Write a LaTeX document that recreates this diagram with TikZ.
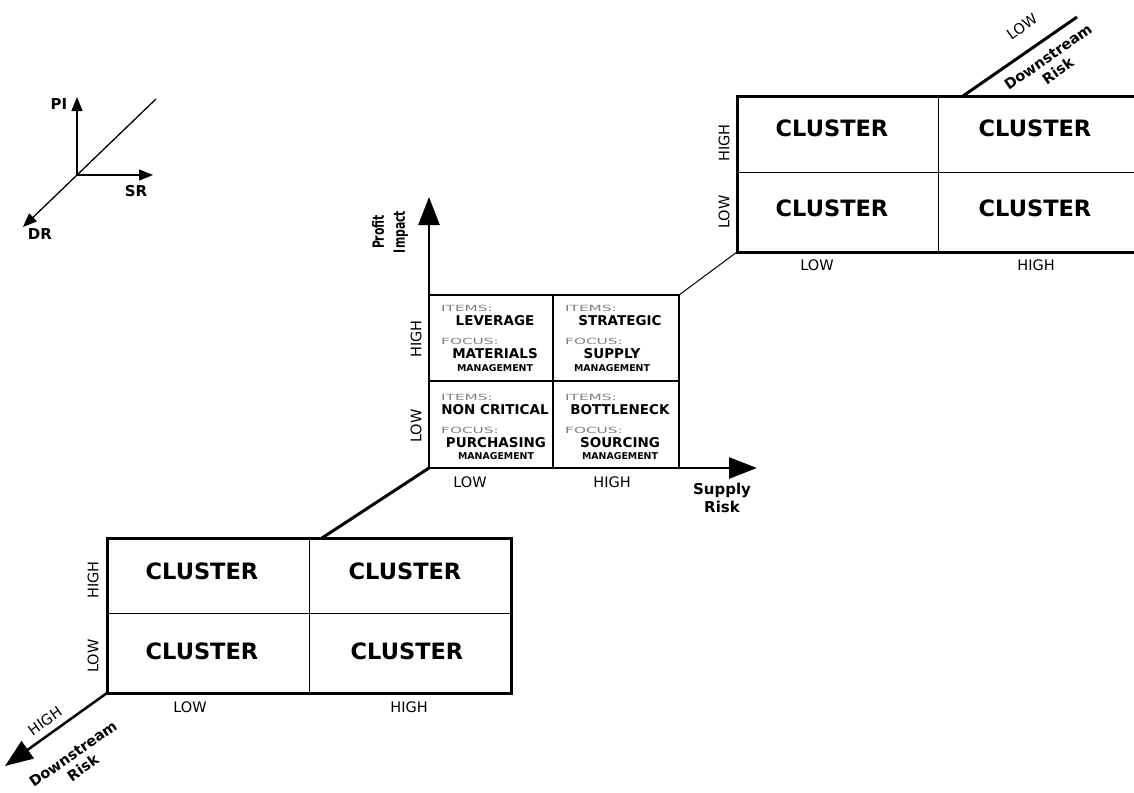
\documentclass[tikz,border=0pt]{standalone}
\usepackage{fontspec}
\setmainfont{DejaVu Sans}
\newfontfamily\widefont[FakeStretch=1.8]{DejaVu Sans}
\newfontfamily\narrowfont[FakeStretch=0.7]{DejaVu Sans}
\usetikzlibrary{arrows.meta}

\begin{document}
\begin{tikzpicture}[x=1pt,y=-1pt,
    bigarrow/.style={line width=2.5pt,-{Triangle[length=28pt,width=21pt]}},
    smallarrow/.style={line width=1.3pt,-{Triangle[length=14pt,width=11pt]}},
    cluster/.style={font=\bfseries\fontsize{22.5}{26}\selectfont},
    lbl/.style={font=\fontsize{14.5}{17}\selectfont},
    axislbl/.style={font=\bfseries\fontsize{15}{18}\selectfont,align=center},
    tag/.style={font=\widefont\fontsize{8.5}{10}\selectfont,text=black!50,anchor=west,inner sep=0pt},
    item/.style={font=\bfseries\fontsize{13.5}{15}\selectfont,inner sep=0pt},
    mgmt/.style={font=\bfseries\fontsize{9.4}{10}\selectfont,inner sep=0pt}]
    \useasboundingbox (0,0) rectangle (1134,792);

    % small orientation axes
    \coordinate (o) at (77,175);
    \coordinate (piend) at (77,97);
    \coordinate (srend) at (153,175);
    \coordinate (drend) at (23,227);
    \coordinate (back) at (156,99);
    \draw[smallarrow] (o) -- (piend);
    \draw[smallarrow] (o) -- (srend);
    \draw[smallarrow] (o) -- (drend);
    \draw[line width=1.3pt] (o) -- (back);
    \node[font=\bfseries\fontsize{15}{17}\selectfont] (pi) at (59,104) {PI};
    \node[font=\bfseries\fontsize{15}{17}\selectfont] (sr) at (136,191) {SR};
    \node[font=\bfseries\fontsize{15}{17}\selectfont] (dr) at (40,234) {DR};

    % middle matrix
    \coordinate (m0) at (429,468);
    \coordinate (mtr) at (679,295);
    \coordinate (pitip) at (429,197);
    \coordinate (srtip) at (757,468);
    \draw[line width=2.2pt] (m0) rectangle (mtr);
    \draw[line width=2.2pt] (429,381) -- (679,381) (553,295) -- (553,468);
    \draw[bigarrow] (m0) -- (pitip);
    \draw[bigarrow] (m0) -- (srtip);
    \node[axislbl,font=\narrowfont\bfseries\fontsize{15.5}{21}\selectfont,rotate=90] (pilbl) at (390,232) {Profit\\Impact};
    \node[axislbl] (srlbl) at (722,498) {Supply\\Risk};
    \node[lbl,rotate=90] (mhigh) at (416,339) {HIGH};
    \node[lbl,rotate=90] (mlow) at (416,426) {LOW};
    \node[lbl] (mlowx) at (470,482) {LOW};
    \node[lbl] (mhighx) at (612,482) {HIGH};

    \node[tag] (it1) at (441,308) {ITEMS:};
    \node[item] (lev) at (495,321) {LEVERAGE};
    \node[tag] (fo1) at (441,341) {FOCUS:};
    \node[item] (mat) at (495,354) {MATERIALS};
    \node[mgmt] (mg1) at (495,368) {MANAGEMENT};

    \node[tag] (it2) at (565,308) {ITEMS:};
    \node[item] (str) at (620,321) {STRATEGIC};
    \node[tag] (fo2) at (565,341) {FOCUS:};
    \node[item] (sup) at (612,354) {SUPPLY};
    \node[mgmt] (mg2) at (612,368) {MANAGEMENT};

    \node[tag] (it3) at (441,397) {ITEMS:};
    \node[item] (non) at (495,410) {NON CRITICAL};
    \node[tag] (fo3) at (441,430) {FOCUS:};
    \node[item] (pur) at (496,443) {PURCHASING};
    \node[mgmt] (mg3) at (496,456) {MANAGEMENT};

    \node[tag] (it4) at (565,397) {ITEMS:};
    \node[item] (bot) at (620,410) {BOTTLENECK};
    \node[tag] (fo4) at (565,430) {FOCUS:};
    \node[item] (sou) at (620,443) {SOURCING};
    \node[mgmt] (mg4) at (620,456) {MANAGEMENT};

    % lower left matrix (high downstream risk)
    \coordinate (l0) at (107,693);
    \coordinate (ltr) at (511,538);
    \coordinate (lattach) at (322,538);
    \coordinate (ldrtip) at (5,766);
    \draw[line width=1pt] (107,613) -- (511,613) (309,538) -- (309,693);
    \draw[line width=3pt] (l0) rectangle (ltr);
    \draw[line width=3pt] (lattach) -- (m0);
    \draw[bigarrow] (l0) -- (ldrtip);
    \node[cluster] (c1) at (202,571) {CLUSTER};
    \node[cluster] (c2) at (405,571) {CLUSTER};
    \node[cluster] (c3) at (202,651) {CLUSTER};
    \node[cluster] (c4) at (407,651) {CLUSTER};
    \node[lbl,rotate=90] (lhigh) at (93,580) {HIGH};
    \node[lbl,rotate=90] (llow) at (93,656) {LOW};
    \node[lbl] (llowx) at (190,707) {LOW};
    \node[lbl] (lhighx) at (409,707) {HIGH};
    \node[lbl,rotate=35,inner sep=0pt] (ldrhigh) at (45,721) {HIGH};
    \node[axislbl,font=\bfseries\fontsize{14.5}{17}\selectfont,rotate=35,inner sep=0pt] (ldrlbl) at (78,761) {Downstream\\Risk};

    % upper right matrix (low downstream risk)
    \coordinate (u0) at (737,252);
    \coordinate (uattach) at (963,96);
    \coordinate (udrend) at (1077,17);
    \draw[line width=1pt] (737,172) -- (1134,172) (938,96) -- (938,252);
    \draw[line width=3pt] (1134,96) -- (737,96) -- (u0) -- (1134,252);
    \draw[line width=1pt] (mtr) -- (u0);
    \draw[line width=3pt] (uattach) -- (udrend);
    \node[cluster] (c5) at (832,128) {CLUSTER};
    \node[cluster] (c6) at (1035,128) {CLUSTER};
    \node[cluster] (c7) at (832,208) {CLUSTER};
    \node[cluster] (c8) at (1035,208) {CLUSTER};
    \node[lbl,rotate=90] (uhigh) at (724,143) {HIGH};
    \node[lbl,rotate=90] (ulow) at (724,212) {LOW};
    \node[lbl] (ulowx) at (817,265) {LOW};
    \node[lbl] (uhighx) at (1036,265) {HIGH};
    \node[lbl,rotate=35,inner sep=0pt] (udrlow) at (1022,27) {LOW};
    \node[axislbl,font=\bfseries\fontsize{14.5}{17}\selectfont,rotate=35,inner sep=0pt] (udrlbl) at (1053,64) {Downstream\\Risk};
\end{tikzpicture}
\end{document}
